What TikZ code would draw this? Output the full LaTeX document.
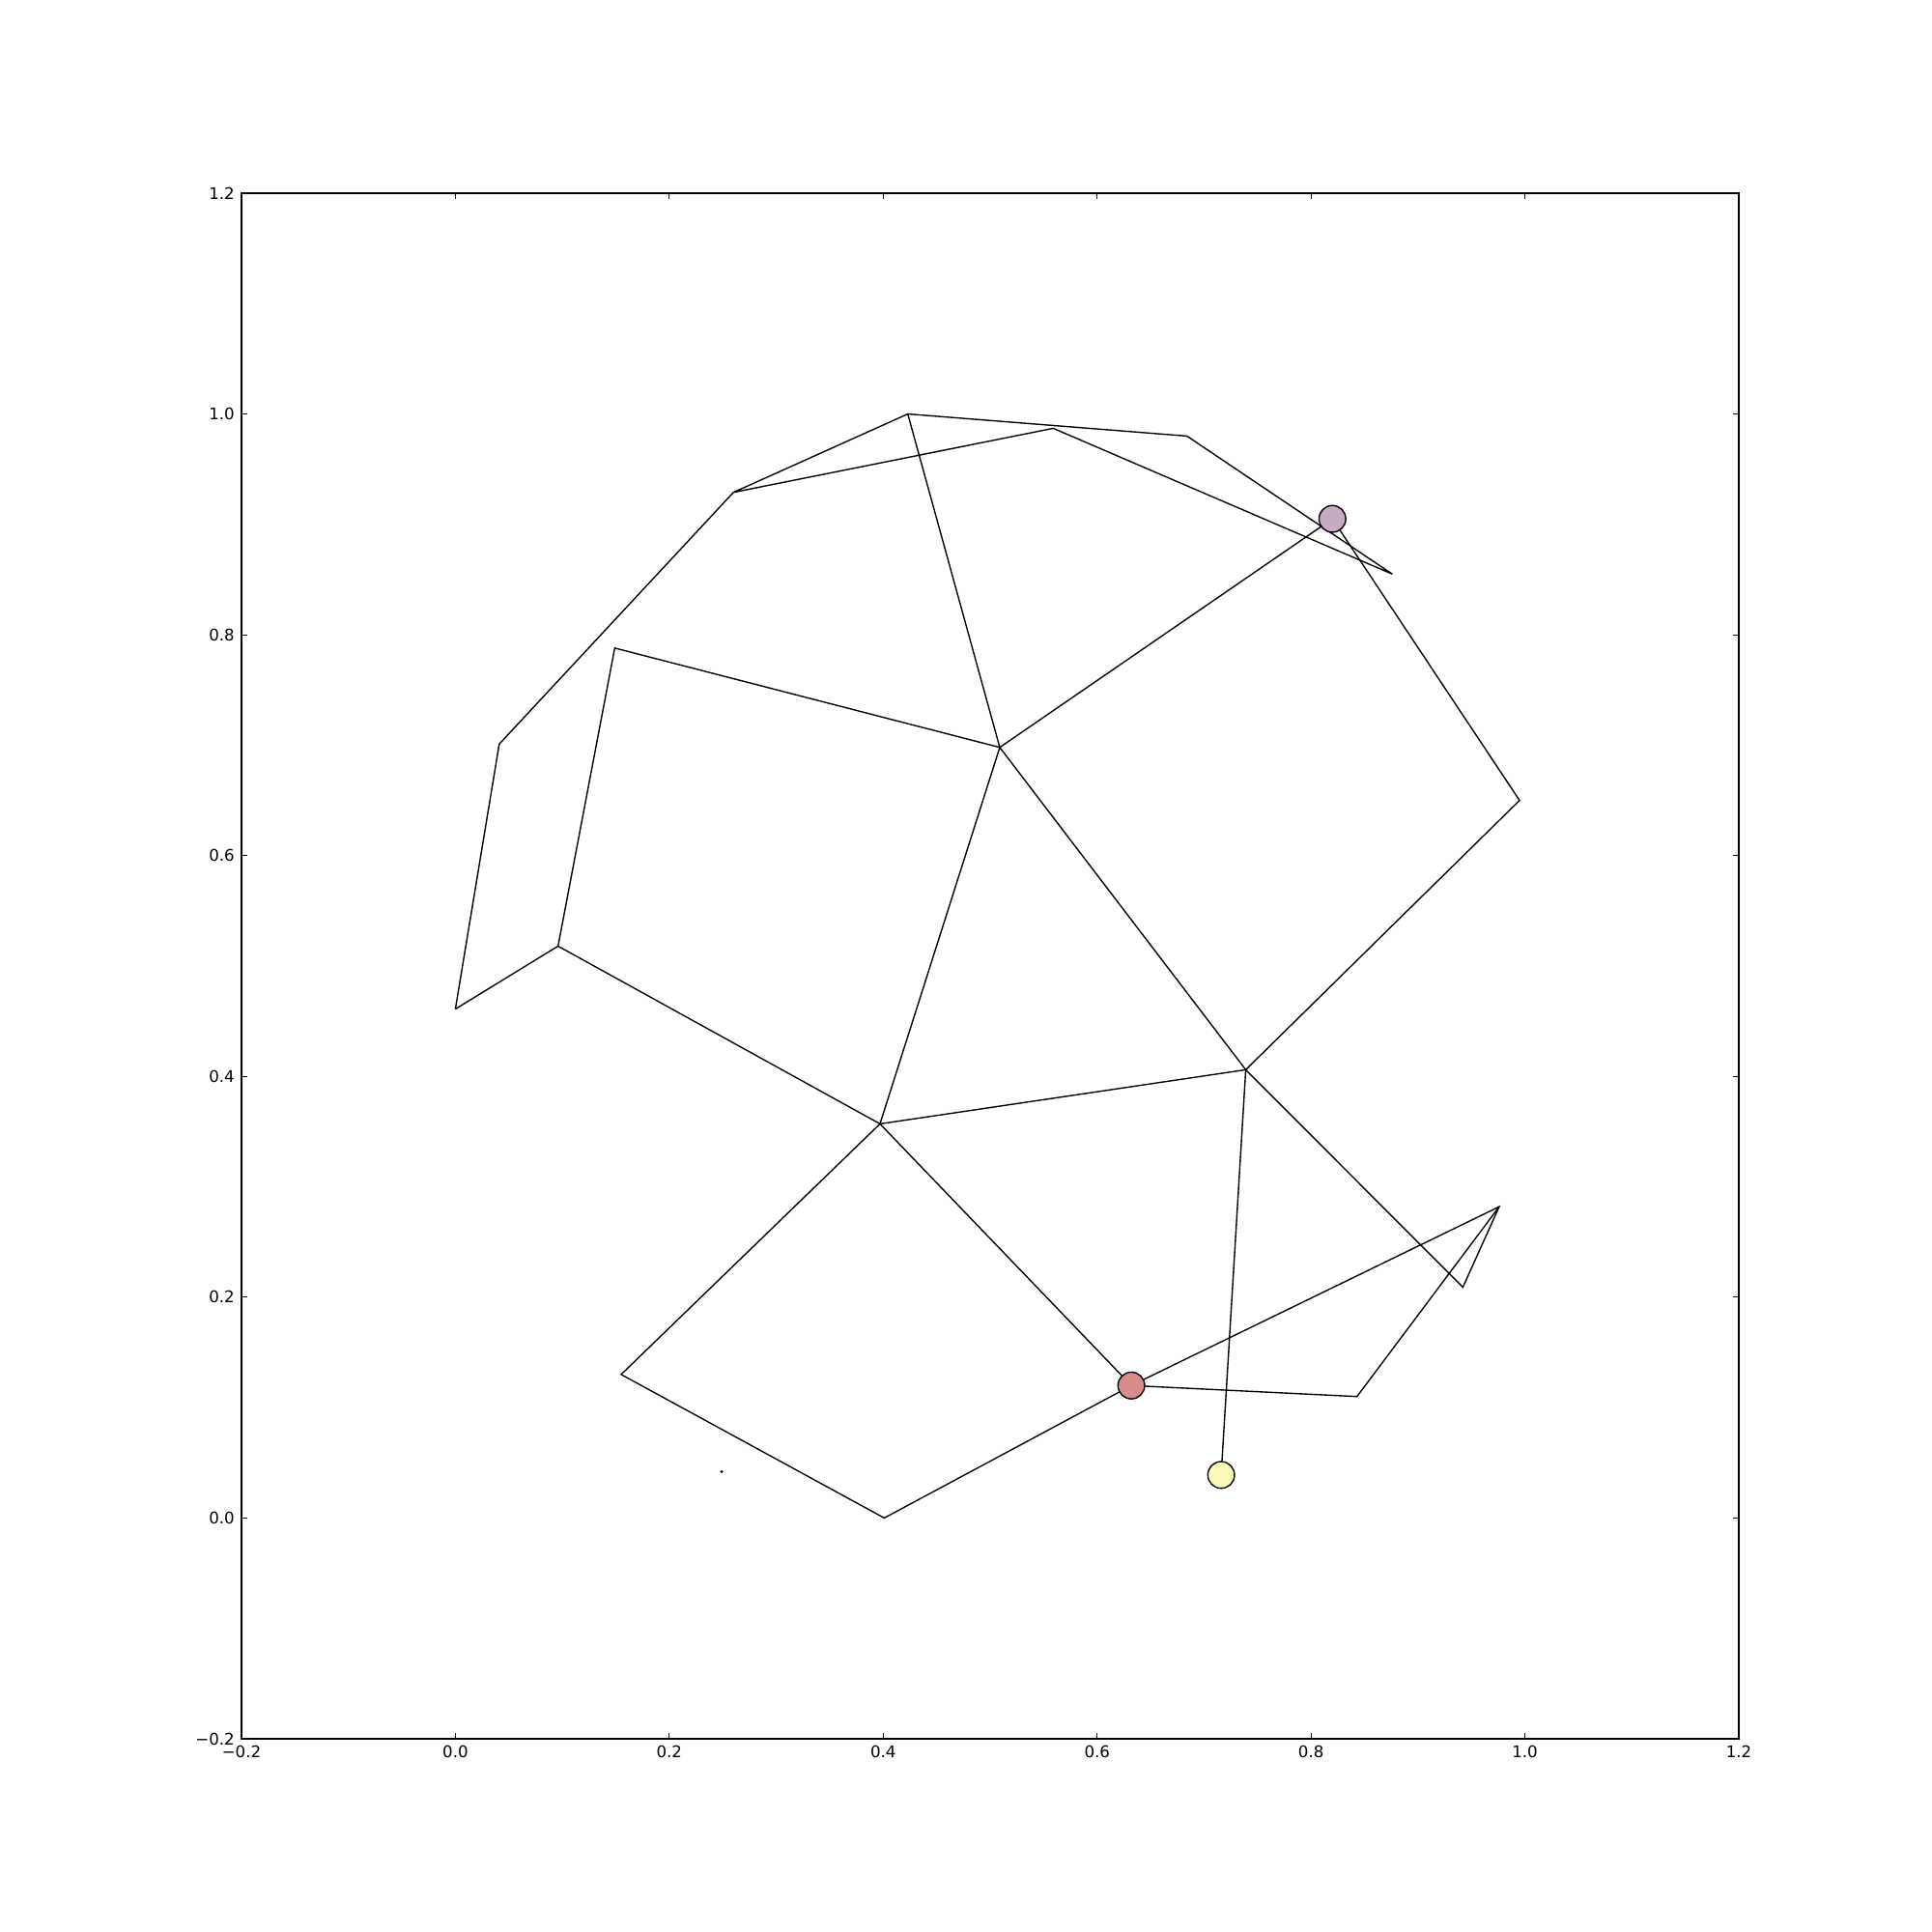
\documentclass[tikz,border=0pt]{standalone}
\usepackage{fontspec}
\setmainfont{DejaVu Sans}
\usepackage{xcolor}
\definecolor{purple1}{HTML}{C8AAC5}
\definecolor{red1}{HTML}{D98B8A}
\definecolor{yellow1}{HTML}{FAF9B6}
\usepackage{tikz}
\usetikzlibrary{positioning}

\begin{document}
\begin{tikzpicture}[
  x=11.0714in, y=11.4286in,
  edge/.style={black,line width=1pt},
  hub/.style={circle,draw=black,line width=1pt,minimum size=20pt,inner sep=0pt},
  frame/.style={black,line width=1pt},
  tickmark/.style={black,line width=0.8pt},
  ticklabel/.style={font=\fontsize{12}{14}\selectfont,inner sep=0pt},
]
  \useasboundingbox (-0.4258,-0.375) rectangle (1.3806,1.375);

  % vertices of the layout
  \coordinate (va) at (0.000,0.461);
  \coordinate (vb) at (0.041,0.701);
  \coordinate (vc) at (0.260,0.929);
  \coordinate (vd) at (0.423,1.000);
  \coordinate (ve) at (0.559,0.987);
  \coordinate (vf) at (0.684,0.980);
  \coordinate (vg) at (0.876,0.855);
  \coordinate (vh) at (0.820,0.905);
  \coordinate (vi) at (0.995,0.650);
  \coordinate (vj) at (0.509,0.698);
  \coordinate (vk) at (0.149,0.788);
  \coordinate (vl) at (0.096,0.518);
  \coordinate (vm) at (0.397,0.357);
  \coordinate (vn) at (0.739,0.406);
  \coordinate (vo) at (0.942,0.209);
  \coordinate (vp) at (0.976,0.282);
  \coordinate (vq) at (0.843,0.110);
  \coordinate (vr) at (0.632,0.120);
  \coordinate (vs) at (0.716,0.039);
  \coordinate (vt) at (0.155,0.130);
  \coordinate (vu) at (0.401,0.000);

  % edges
  \draw[edge] (va) -- (vb) -- (vc) -- (vd) -- (vf) -- (vg) -- (ve) -- (vc);
  \draw[edge] (va) -- (vl) -- (vk) -- (vj) -- (vd);
  \draw[edge] (vl) -- (vm) -- (vj) -- (vh) -- (vi) -- (vn) -- (vj);
  \draw[edge] (vm) -- (vn) -- (vo) -- (vp) -- (vr) -- (vq) -- (vp);
  \draw[edge] (vm) -- (vt) -- (vu) -- (vr) -- (vm);
  \draw[edge] (vn) -- (vs);

  % coloured nodes
  \node[hub,fill=purple1] (top) at (vh) {};
  \node[hub,fill=red1] (mid) at (vr) {};
  \node[hub,fill=yellow1] (low) at (vs) {};
  \node[circle,fill=black,inner sep=0pt,minimum size=2.5pt] (spot) at (0.249,0.042) {};

  % axes
  \draw[frame] (-0.2,-0.2) rectangle (1.2,1.2);
  \foreach \v/\t in {-0.2/−0.2,0/0.0,0.2/0.2,0.4/0.4,0.6/0.6,0.8/0.8,1.0/1.0,1.2/1.2} {
    \draw[tickmark] (\v,-0.2) -- ++(0,4pt) (\v,1.2) -- ++(0,-4pt);
    \draw[tickmark] (-0.2,\v) -- ++(4pt,0) (1.2,\v) -- ++(-4pt,0);
    \node[ticklabel,anchor=north,yshift=-5pt] at (\v,-0.2) {\t};
    \node[ticklabel,anchor=east,xshift=-5pt] at (-0.2,\v) {\t};
  }
\end{tikzpicture}
\end{document}
